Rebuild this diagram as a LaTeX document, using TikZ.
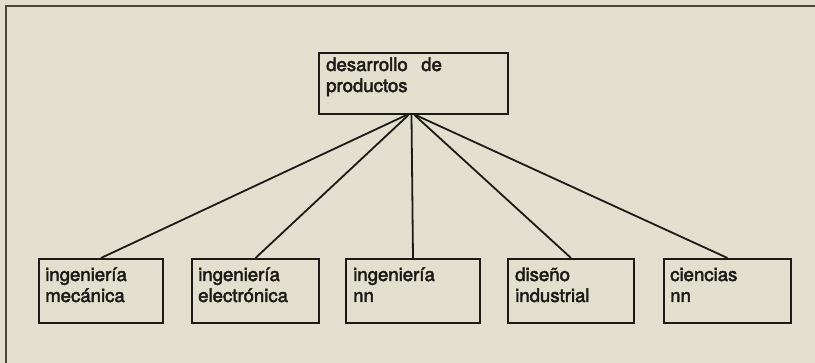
\documentclass[tikz,border=0pt]{standalone}
\usepackage{fontspec}
\setmainfont{TeX Gyre Heros}
\newfontfamily\lblfont{TeX Gyre Heros}[FakeBold=2.5]
\definecolor{paper}{HTML}{E2DFCE}
\definecolor{ink}{HTML}{1C1A16}
\definecolor{frameink}{HTML}{4A463A}
\begin{document}
\begin{tikzpicture}[x=1pt,y=-1pt,
  box/.style={draw=ink,line width=2pt,minimum width=#1,minimum height=62pt,inner sep=0pt,anchor=north west},
  box/.default=125pt,
  lbl/.style={anchor=base west,inner sep=0pt,text=ink,font=\lblfont\fontsize{18.6}{21}\selectfont},
  link/.style={draw=ink,line width=1.8pt}]
\fill[paper] (0,0) rectangle (815,363);
\useasboundingbox (0,0) rectangle (815,363);
\draw[frameink,line width=1.3pt] (6,363) -- (6,6) -- (815,6);
% top box
\node[box=189pt,minimum height=61pt] (top) at (318,52) {};
\node[lbl] (topa) at (326,71) {desarrollo\hspace{0.45em} de};
\node[lbl] (topb) at (326,92) {productos};
% bottom boxes
\node[box=124pt,minimum height=64pt] (b1) at (38,258) {};
\node[box=127pt,minimum height=64pt] (b2) at (191,258) {};
\node[box=134pt,minimum height=64pt] (b3) at (345,258) {};
\node[box=126pt,minimum height=64pt] (b4) at (507,258) {};
\node[box=127pt,minimum height=64pt] (b5) at (663,258) {};
\node[lbl] (b1a) at (45,281) {ingeniería};
\node[lbl] (b1b) at (45,302) {mecánica};
\node[lbl] (b2a) at (198,281) {ingeniería};
\node[lbl] (b2b) at (198,302) {electrónica};
\node[lbl] (b3a) at (353,281) {ingeniería};
\node[lbl] (b3b) at (353,302) {nn};
\node[lbl] (b4a) at (515,281) {diseño};
\node[lbl] (b4b) at (515,302) {industrial};
\node[lbl] (b5a) at (670,281) {ciencias};
\node[lbl] (b5b) at (670,302) {nn};
% connectors
\foreach \b/\dx in {b1/-7,b2/-5,b3/-2,b4/1,b5/2}
  \draw[link] ([xshift=\dx pt]top.south) -- (\b.north);
\end{tikzpicture}
\end{document}
